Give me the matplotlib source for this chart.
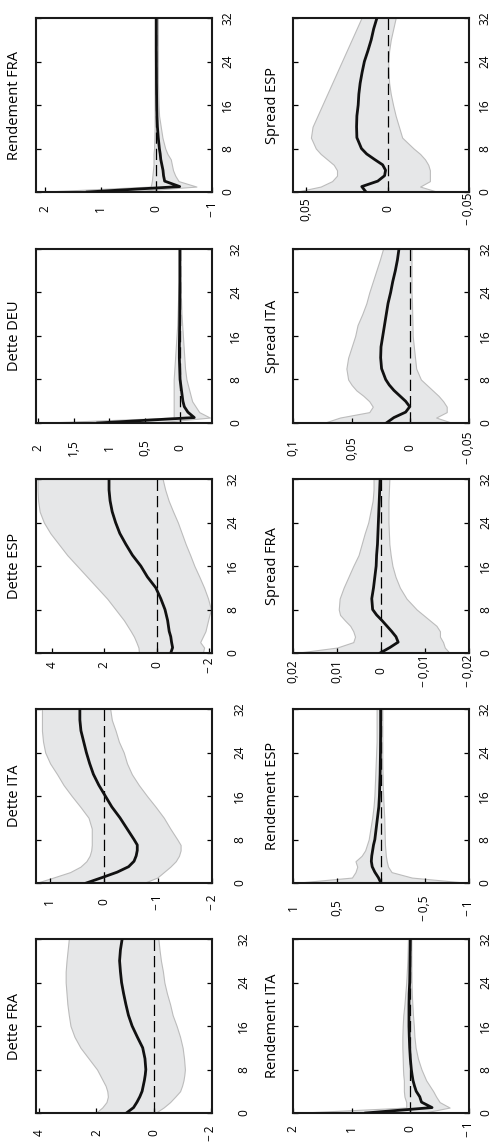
import matplotlib
matplotlib.use("Agg")
import matplotlib.pyplot as plt

plt.rcParams['font.family'] = ['Open Sans', 'DejaVu Sans']

# Horizons (quarters) at which the responses are reported
horizon = [0, 1, 2, 3, 4, 5, 6, 7, 8, 10, 12, 14, 16, 18, 20, 22, 24, 26, 28, 30, 32]

# ---- Dette FRA ----
dette_fra_mean = [0.95, 0.70, 0.58, 0.48, 0.40, 0.36, 0.32, 0.29, 0.27, 0.30, 0.38, 0.57, 0.75, 0.88, 0.97, 1.05, 1.12, 1.16, 1.19, 1.16, 1.10]
dette_fra_high = [2.03, 1.80, 1.65, 1.60, 1.62, 1.68, 1.78, 1.88, 1.98, 2.27, 2.56, 2.77, 2.91, 2.97, 3.02, 3.05, 3.08, 3.08, 3.05, 3.01, 2.97]
dette_fra_low = [-0.06, -0.35, -0.58, -0.76, -0.93, -1.00, -1.05, -1.08, -1.10, -1.07, -1.02, -0.93, -0.81, -0.67, -0.58, -0.47, -0.38, -0.33, -0.26, -0.21, -0.17]

# ---- Dette ITA ----
dette_ita_mean = [0.32, 0.03, -0.25, -0.46, -0.56, -0.60, -0.62, -0.62, -0.56, -0.43, -0.30, -0.15, -0.03, 0.09, 0.19, 0.26, 0.32, 0.37, 0.42, 0.44, 0.44]
dette_ita_high = [1.25, 0.93, 0.62, 0.43, 0.32, 0.26, 0.23, 0.22, 0.22, 0.22, 0.28, 0.43, 0.59, 0.74, 0.86, 0.99, 1.08, 1.12, 1.14, 1.14, 1.14]
dette_ita_low = [-0.74, -0.99, -1.11, -1.23, -1.33, -1.39, -1.42, -1.42, -1.36, -1.23, -1.11, -0.96, -0.80, -0.65, -0.52, -0.43, -0.37, -0.28, -0.22, -0.15, -0.12]

# ---- Dette ESP ----
dette_esp_mean = [-0.53, -0.60, -0.56, -0.53, -0.47, -0.44, -0.41, -0.36, -0.31, -0.15, 0.04, 0.36, 0.61, 0.93, 1.18, 1.41, 1.57, 1.70, 1.78, 1.82, 1.82]
dette_esp_high = [0.68, 0.70, 0.78, 0.87, 0.99, 1.12, 1.25, 1.41, 1.57, 1.89, 2.27, 2.65, 3.03, 3.41, 3.73, 4.05, 4.30, 4.46, 4.52, 4.54, 4.54]
dette_esp_low = [-1.75, -1.80, -1.65, -1.75, -1.85, -1.90, -1.95, -2.00, -2.06, -1.95, -1.80, -1.62, -1.43, -1.27, -1.10, -0.95, -0.80, -0.62, -0.45, -0.32, -0.22]

# ---- Dette DEU ----
dette_deu_mean = [1.16, -0.20, -0.11, -0.06, -0.04, -0.03, -0.02, -0.01, 0.0, 0.005, 0.01, 0.01, 0.008, 0.006, 0.005, 0.004, 0.003, 0.002, 0.002, 0.002, 0.002]
dette_deu_high = [2.03, 0.09, 0.09, 0.09, 0.09, 0.09, 0.09, 0.09, 0.09, 0.08, 0.07, 0.06, 0.05, 0.04, 0.035, 0.03, 0.025, 0.02, 0.02, 0.02, 0.02]
dette_deu_low = [0.40, -0.42, -0.27, -0.22, -0.17, -0.15, -0.13, -0.11, -0.09, -0.07, -0.06, -0.05, -0.04, -0.03, -0.02, -0.015, -0.01, -0.005, 0.0, 0.0, 0.0]

# ---- Rendement FRA ----
rend_fra_mean = [1.24, -0.42, -0.15, -0.13, -0.12, -0.10, -0.08, -0.07, -0.055, -0.035, -0.02, -0.012, -0.008, -0.005, -0.003, -0.002, -0.001, 0.0, 0.0, 0.0, 0.0]
rend_fra_high = [2.16, 0.10, 0.08, 0.07, 0.06, 0.05, 0.05, 0.05, 0.04, 0.035, 0.03, 0.03, 0.03, 0.03, 0.03, 0.03, 0.03, 0.03, 0.03, 0.03, 0.03]
rend_fra_low = [0.60, -0.72, -0.40, -0.34, -0.30, -0.28, -0.26, -0.20, -0.16, -0.11, -0.08, -0.05, -0.04, -0.035, -0.03, -0.03, -0.03, -0.03, -0.03, -0.03, -0.03]

# ---- Rendement ITA ----
rend_ita_mean = [0.76, -0.37, -0.19, -0.16, -0.10, -0.07, -0.045, -0.03, -0.017, 0.0, 0.011, 0.018, 0.023, 0.023, 0.023, 0.02, 0.011, 0.008, 0.006, 0.003, 0.0]
rend_ita_high = [2.0, 0.07, 0.07, 0.10, 0.11, 0.11, 0.11, 0.12, 0.125, 0.13, 0.136, 0.136, 0.13, 0.12, 0.10, 0.085, 0.07, 0.06, 0.05, 0.045, 0.04]
rend_ita_low = [-0.20, -0.67, -0.50, -0.44, -0.39, -0.33, -0.27, -0.23, -0.19, -0.13, -0.09, -0.07, -0.06, -0.045, -0.034, -0.025, -0.02, -0.018, -0.017, -0.017, -0.017]

# ---- Rendement ESP ----
rend_esp_mean = [0.0, 0.03, 0.07, 0.10, 0.11, 0.105, 0.095, 0.085, 0.07, 0.055, 0.04, 0.025, 0.018, 0.014, 0.01, 0.008, 0.006, 0.005, 0.004, 0.004, 0.004]
rend_esp_high = [0.99, 0.33, 0.29, 0.27, 0.29, 0.22, 0.18, 0.16, 0.14, 0.12, 0.10, 0.085, 0.075, 0.07, 0.065, 0.06, 0.055, 0.05, 0.05, 0.05, 0.05]
rend_esp_low = [-1.0, -0.35, -0.12, -0.08, -0.065, -0.055, -0.05, -0.045, -0.043, -0.04, -0.037, -0.03, -0.025, -0.02, -0.018, -0.015, -0.015, -0.015, -0.015, -0.015, -0.015]

# ---- Spread FRA ----
spread_fra_mean = [0.0002, -0.002, -0.0039, -0.0034, -0.0024, -0.0013, -0.0002, 0.001, 0.0019, 0.0021, 0.0017, 0.0014, 0.0011, 0.001, 0.0008, 0.0007, 0.0006, 0.0005, 0.0004, 0.0003, 0.0002]
spread_fra_high = [0.0195, 0.010, 0.0063, 0.0059, 0.0063, 0.0070, 0.0082, 0.0093, 0.0096, 0.0094, 0.0085, 0.0074, 0.0063, 0.0051, 0.0044, 0.0037, 0.0029, 0.0024, 0.0019, 0.0017, 0.0017]
spread_fra_low = [-0.0156, -0.0145, -0.0141, -0.0134, -0.0134, -0.0126, -0.0111, -0.0096, -0.0081, -0.0058, -0.0043, -0.0033, -0.0026, -0.0022, -0.0019, -0.0018, -0.0017, -0.0017, -0.0017, -0.0018, -0.0019]

# ---- Spread ITA ----
spread_ita_mean = [0.0205, 0.014, 0.004, 0.0005, 0.004, 0.009, 0.014, 0.018, 0.021, 0.0245, 0.0253, 0.025, 0.0235, 0.022, 0.0205, 0.019, 0.0168, 0.015, 0.0128, 0.011, 0.0097]
spread_ita_high = [0.074, 0.060, 0.035, 0.032, 0.035, 0.040, 0.046, 0.050, 0.053, 0.0545, 0.053, 0.050, 0.047, 0.045, 0.041, 0.0375, 0.035, 0.032, 0.029, 0.026, 0.0233]
spread_ita_low = [-0.036, -0.022, -0.031, -0.031, -0.028, -0.024, -0.019, -0.014, -0.009, -0.005, -0.004, -0.003, -0.002, -0.0018, -0.0016, -0.0014, -0.001, -0.001, -0.001, -0.001, -0.001]

# ---- Spread ESP ----
spread_esp_mean = [0.0132, 0.0158, 0.006, 0.0018, 0.0012, 0.003, 0.008, 0.0128, 0.016, 0.0188, 0.019, 0.0188, 0.018, 0.0176, 0.0168, 0.0156, 0.0142, 0.012, 0.010, 0.0085, 0.0065]
spread_esp_high = [0.0567, 0.041, 0.034, 0.031, 0.031, 0.033, 0.037, 0.041, 0.044, 0.047, 0.046, 0.043, 0.040, 0.037, 0.034, 0.031, 0.028, 0.025, 0.022, 0.019, 0.016]
spread_esp_low = [-0.031, -0.020, -0.026, -0.026, -0.026, -0.025, -0.023, -0.020, -0.016, -0.009, -0.007, -0.005, -0.0034, -0.002, -0.001, -0.0006, -0.0004, -0.001, -0.002, -0.0035, -0.005]

horizon_ticks = [0, 8, 16, 24, 32]

# title, mean, low, high, (min, max), value ticks, column, row,
# gap of horizon labels (px), offset of value-label centres (px)
panels = [
    ("Rendement FRA", rend_fra_mean, rend_fra_low, rend_fra_high, (-1, 2.16), [-1, 0, 1, 2], 0, 0, 9, 17),
    ("Dette DEU", dette_deu_mean, dette_deu_low, dette_deu_high, (-0.45, 2.03), [0, 0.5, 1, 1.5, 2], 0, 1, 17, 25),
    ("Dette ESP", dette_esp_mean, dette_esp_low, dette_esp_high, (-2.1, 4.6), [-2, 0, 2, 4], 0, 2, 14, 12),
    ("Dette ITA", dette_ita_mean, dette_ita_low, dette_ita_high, (-2.0, 1.25), [-2, -1, 0, 1], 0, 3, 21, 19),
    ("Dette FRA", dette_fra_mean, dette_fra_low, dette_fra_high, (-2.05, 4.12), [-2, 0, 2, 4], 0, 4, 25, 20),
    ("Spread ESP", spread_esp_mean, spread_esp_low, spread_esp_high, (-0.05, 0.058), [-0.05, 0, 0.05], 1, 0, 9, 17),
    ("Spread ITA", spread_ita_mean, spread_ita_low, spread_ita_high, (-0.05, 0.1), [-0.05, 0, 0.05, 0.1], 1, 1, 10, 25),
    ("Spread FRA", spread_fra_mean, spread_fra_low, spread_fra_high, (-0.02, 0.02), [-0.02, -0.01, 0, 0.01, 0.02], 1, 2, 10, 18),
    ("Rendement ESP", rend_esp_mean, rend_esp_low, rend_esp_high, (-1, 1), [-1, -0.5, 0, 0.5, 1], 1, 3, 9, 25),
    ("Rendement ITA", rend_ita_mean, rend_ita_low, rend_ita_high, (-1, 2), [-1, 0, 1, 2], 1, 4, 10, 16),
]


def fmt(v):
    s = f"{abs(v):g}".replace('.', ',')
    return ("\u2212\u2009" + s) if v < 0 else s


W, H = 493, 1146
PT = 100 / 72.0  # pixels per point
col_left = [36, 293]
row_top = [18, 249, 479, 709, 939]
box_w, box_h = 176, 174

fig = plt.figure(figsize=(W / 100, H / 100), dpi=100)

for title, mean, low, high, lim, vticks, col, row, hgap, vgap in panels:
    left, top = col_left[col], row_top[row]
    ax = fig.add_axes([left / W, 1 - (top + box_h) / H, box_w / W, box_h / H])
    ax.fill_betweenx(horizon, low, high, facecolor='#e6e7e8', edgecolor='#bcbcbc',
                     linewidth=0.8, zorder=1)
    ax.axvline(0, color='black', linewidth=0.9, dashes=(9, 4), zorder=2)
    ax.plot(mean, horizon, color='#111111', linewidth=2.0, zorder=3,
            solid_joinstyle='round')

    ax.set_ylim(0, 32)
    ax.set_xlim(lim[1], lim[0])

    ax.set_yticks(horizon_ticks)
    ax.set_yticklabels([str(t) for t in horizon_ticks])
    ax.tick_params(axis='y', left=True, right=True, labelleft=False, labelright=True,
                   direction='in', length=5 / PT, width=0.9, labelsize=8.6,
                   pad=hgap / PT)
    for lbl in ax.get_yticklabels():
        lbl.set_rotation(90)
        lbl.set_va('center')
        lbl.set_ha('left')

    ax.set_xticks(vticks)
    ax.set_xticklabels([fmt(t) for t in vticks], rotation=90, rotation_mode='anchor',
                       ha='center', va='center')
    ax.tick_params(axis='x', bottom=True, top=False, direction='in',
                   length=5 / PT, width=0.9, labelsize=8.6, pad=vgap / PT)

    for sp in ax.spines.values():
        sp.set_linewidth(1.5)
        sp.set_color('#1a1a1a')

    fig.text((left - 21) / W, 1 - (top + box_h / 2) / H, title, rotation=90,
             ha='center', va='center', fontsize=10.5)

fig.savefig("out.png", dpi=100)
